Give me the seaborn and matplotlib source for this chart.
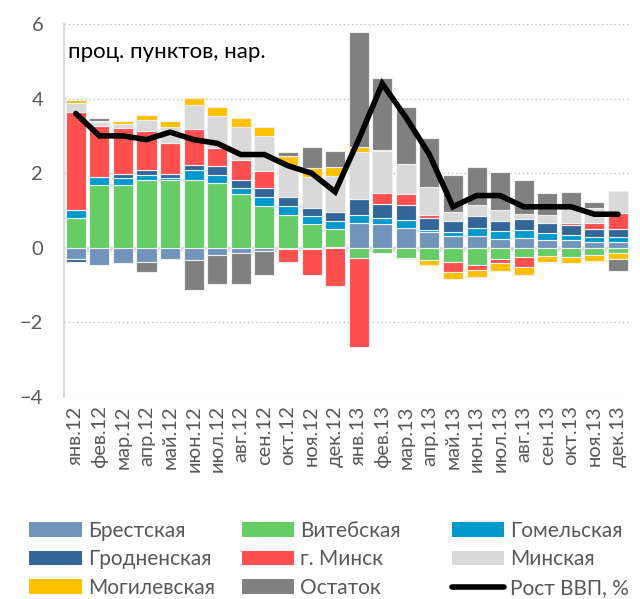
import numpy as np
import pandas as pd
import matplotlib.pyplot as plt
import seaborn as sns
from matplotlib.patches import Patch
from matplotlib.lines import Line2D

# Months (categories)
months = ['янв.12', 'фев.12', 'мар.12', 'апр.12', 'май.12', 'июн.12',
          'июл.12', 'авг.12', 'сен.12', 'окт.12', 'ноя.12', 'дек.12',
          'янв.13', 'фев.13', 'мар.13', 'апр.13', 'май.13', 'июн.13',
          'июл.13', 'авг.13', 'сен.13', 'окт.13', 'ноя.13', 'дек.13']

# Contributions of regions, p.p.
brest = [-0.31, -0.45, -0.42, -0.39, -0.30, -0.33, -0.19, -0.13, -0.09, -0.03, -0.03, 0.03,
         0.67, 0.63, 0.53, 0.41, 0.32, 0.32, 0.24, 0.27, 0.22, 0.20, 0.16, 0.16]
vitebsk = [0.81, 1.67, 1.69, 1.83, 1.83, 1.82, 1.73, 1.43, 1.13, 0.88, 0.64, 0.48,
           -0.27, -0.14, -0.27, -0.33, -0.37, -0.47, -0.31, -0.24, -0.22, -0.24, -0.18, -0.15]
gomel = [0.21, 0.22, 0.17, 0.12, 0.05, 0.27, 0.23, 0.17, 0.24, 0.24, 0.21, 0.21,
         0.20, 0.18, 0.21, 0.07, 0.11, 0.22, 0.22, 0.22, 0.18, 0.14, 0.13, 0.13]
grodno = [-0.06, 0.0, 0.13, 0.13, 0.10, 0.13, 0.24, 0.23, 0.22, 0.23, 0.23, 0.23,
          0.45, 0.36, 0.41, 0.33, 0.30, 0.30, 0.25, 0.27, 0.27, 0.27, 0.22, 0.22]
minsk_city = [2.62, 1.37, 1.22, 1.05, 0.83, 0.96, 0.48, 0.52, 0.48, -0.36, -0.70, -1.03,
              -2.38, 0.30, 0.30, 0.07, -0.29, -0.12, -0.11, -0.27, 0.0, 0.06, 0.15, 0.43]
minsk_reg = [0.24, 0.11, 0.12, 0.30, 0.43, 0.65, 0.85, 0.88, 0.92, 0.88, 0.83, 0.97,
             1.24, 1.12, 0.79, 0.76, 0.22, 0.30, 0.31, 0.15, 0.22, 0.40, 0.42, 0.58]
mogilev = [0.09, 0.03, 0.07, 0.13, 0.17, 0.19, 0.24, 0.25, 0.26, 0.24, 0.23, 0.25,
           0.13, 0.04, -0.03, -0.12, -0.18, -0.20, -0.20, -0.23, -0.15, -0.16, -0.18, -0.16]
other = [0.0, 0.07, 0.0, -0.27, 0.0, -0.79, -0.79, -0.85, -0.65, 0.11, 0.57, 0.42,
         3.09, 1.92, 1.54, 1.30, 1.00, 1.03, 1.01, 0.92, 0.58, 0.42, 0.16, -0.30]

# GDP growth, %
gdp = [3.6, 3.0, 3.0, 2.9, 3.1, 2.9, 2.8, 2.5, 2.5, 2.2, 2.0, 1.5,
       2.9, 4.4, 3.5, 2.5, 1.1, 1.4, 1.4, 1.1, 1.1, 1.1, 0.9, 0.9]

series = [('Брестская', brest, '#7094ba'),
          ('Витебская', vitebsk, '#66cc66'),
          ('Гомельская', gomel, '#0099cc'),
          ('Гродненская', grodno, '#336699'),
          ('г. Минск', minsk_city, '#ff4f4f'),
          ('Минская', minsk_reg, '#d9d9d9'),
          ('Могилевская', mogilev, '#ffc000'),
          ('Остаток', other, '#808080')]

sns.set_theme(style='white')
plt.rcParams['font.family'] = ['Lato', 'DejaVu Sans']

fig = plt.figure(figsize=(6.4, 5.99), dpi=100)
ax = fig.add_axes([0.1, 0.3372, 0.884, 0.6228])

pos_base = np.zeros(len(months))
neg_base = np.zeros(len(months))
for name, vals, col in series:
    v = np.array(vals)
    bottom = np.where(v >= 0, pos_base, neg_base)
    df = pd.DataFrame({'month': months, 'value': v})
    sns.barplot(data=df, x='month', y='value', order=months, color=col,
                bottom=bottom, width=0.85, edgecolor='#f0f0f0', linewidth=0.8,
                saturation=1, ax=ax, zorder=2)
    pos_base = pos_base + np.where(v > 0, v, 0)
    neg_base = neg_base + np.where(v < 0, v, 0)

sns.lineplot(x=np.arange(len(months)), y=gdp, color='black', linewidth=4,
             ax=ax, zorder=4, solid_joinstyle='miter')

ax.set_xlim(-0.5, len(months) - 0.5)
ax.set_ylim(-4, 6)
ax.set_yticks([-4, -2, 0, 2, 4, 6])
ax.set_xlabel('')
ax.set_ylabel('')
ax.yaxis.grid(True, linestyle=(0, (1, 2)), color='#bfbfbf', linewidth=1)
ax.set_axisbelow(True)

# zero axis line with category tick marks
ax.axhline(0, color='#d9d9d9', linewidth=1.5, zorder=1)
ax.vlines(np.arange(len(months) + 1) - 0.5, -0.12, 0, color='#d9d9d9',
          linewidth=1.2, zorder=1)

for s in ['top', 'right', 'bottom']:
    ax.spines[s].set_visible(False)
ax.spines['left'].set_color('#d9d9d9')
ax.spines['left'].set_linewidth(1.5)

ax.tick_params(axis='y', length=0, pad=15, labelsize=14.5, labelcolor='#595959')
ax.tick_params(axis='x', length=0, pad=6, labelsize=14.5, labelcolor='#595959')
ax.set_xticks(np.arange(len(months)))
ax.set_xticklabels(months, rotation=90)

ax.text(0.007, 0.925, 'проц. пунктов, нар.', transform=ax.transAxes,
        fontsize=16, color='black', va='center', ha='left')

# legend, three columns
handles = [Patch(facecolor=c, edgecolor='none') for _, _, c in series]
handles.append(Line2D([0], [0], color='black', linewidth=4))
labels = [n for n, _, _ in series] + ['Рост ВВП, %']
cols = [[0, 3, 6], [1, 4, 7], [2, 5, 8]]
xs = [0.046, 0.378, 0.706]
for idx, x in zip(cols, xs):
    fig.legend([handles[i] for i in idx], [labels[i] for i in idx],
               loc='upper left', bbox_to_anchor=(x, 0.131), frameon=False,
               fontsize=15, handlelength=2.5, handleheight=0.72,
               handletextpad=0.3, labelspacing=0.42, borderpad=0,
               borderaxespad=0, labelcolor='#595959')

fig.savefig('out.png', dpi=100)
